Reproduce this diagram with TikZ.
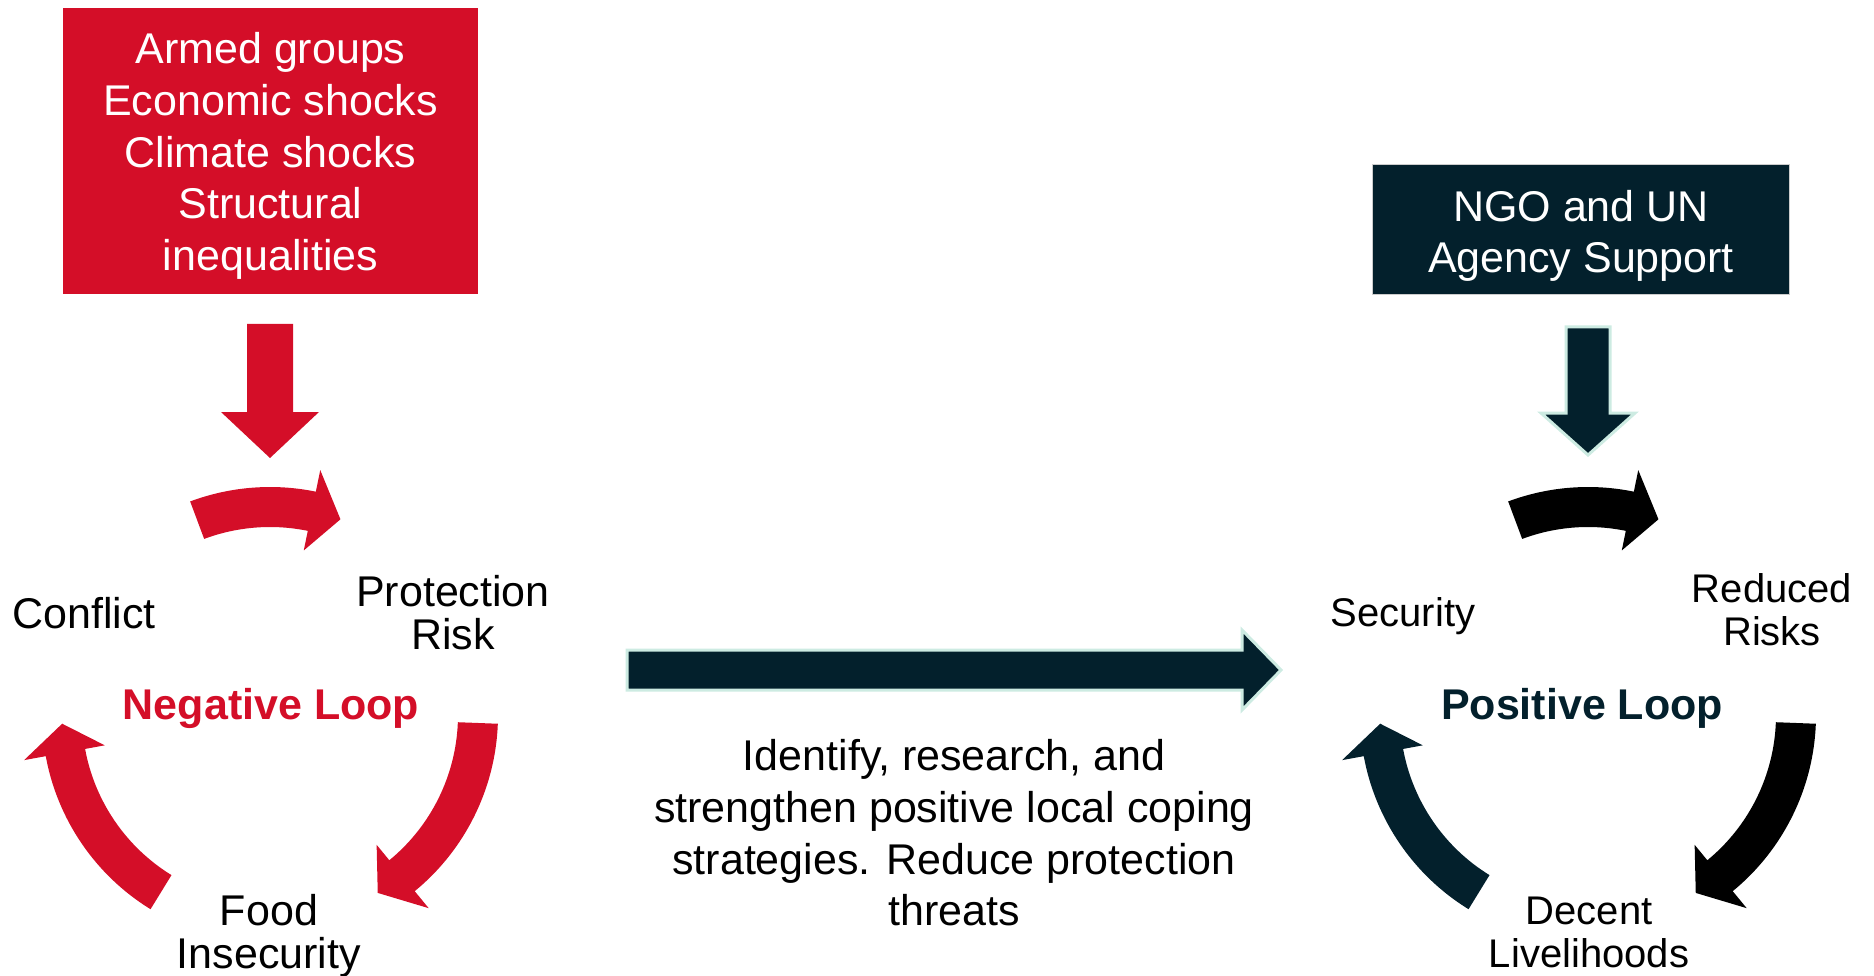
\documentclass[tikz,border=0pt]{standalone}
\usepackage{fontspec}
\setmainfont{Liberation Sans}
\definecolor{negred}{RGB}{212,14,40}
\definecolor{posteal}{RGB}{3,32,44}
\definecolor{glow}{RGB}{205,235,226}
\tikzset{
  boxtext/.style={text=white, align=center, font=\fontsize{43}{51.6}\selectfont},
  looplabel/.style={align=center, font=\fontsize{43}{43}\selectfont},
  poslabel/.style={align=center, font=\fontsize{40}{43}\selectfont},
  loopname/.style={font=\fontsize{43}{43}\selectfont\bfseries},
  notetext/.style={align=center, font=\fontsize{43}{51.6}\selectfont},
}

\begin{document}
\begin{tikzpicture}[x=1pt,y=-1pt]
\useasboundingbox (0,0) rectangle (1874,976);

% causes
\node[fill=negred, minimum width=415pt, minimum height=286pt, inner sep=0] (shocks) at (270.5,151) {};
\node[boxtext] (shocktext) at (270.5,156) {Armed groups\\Economic shocks\\Climate shocks\\Structural\\inequalities};
\fill[negred] (247,324) -- (293,324) -- (293,412) -- (319,412) -- (270,458) -- (221,412) -- (247,412) -- cycle;

% negative loop
\begin{scope}[shift={(270,715)}]
    \fill[negred] (-110.5:228) arc[start angle=-110.5, end angle=-78.4, radius=228] -- (-78.4:250) -- (-70.2:208) -- (-78.4:168) -- (-78.4:188) arc[start angle=-78.4, end angle=-110.5, radius=188] -- cycle;
    \fill[negred] (2.2:228) arc[start angle=2.2, end angle=50.6, radius=228] -- (50.6:250) -- (58.8:208) -- (50.6:168) -- (50.6:188) arc[start angle=50.6, end angle=2.2, radius=188] -- cycle;
    \fill[negred] (121.6:228) arc[start angle=121.6, end angle=169.6, radius=228] -- (169.6:250) -- (177.6:208) -- (169.6:168) -- (169.6:188) arc[start angle=169.6, end angle=121.6, radius=188] -- cycle;
\end{scope}
\node[looplabel] (conflict) at (84,613) {Conflict};
\node[looplabel] (risk) at (453,613) {Protection\\Risk};
\node[looplabel] (food) at (269,936) {Food\\Insecurity};
\node[loopname, text=negred] (negloop) at (271,708) {Negative Loop};

% middle
\fill[posteal, draw=glow, line width=3pt] (627,650) -- (1242,650) -- (1242,630) -- (1281,670) -- (1242,710) -- (1242,690) -- (627,690) -- cycle;
\node[notetext] (coping) at (954,833) {Identify, research, and\\strengthen positive local coping\\strategies. Reduce protection\\threats};

% support
\node[fill=posteal, draw=gray!40, minimum width=417pt, minimum height=130pt, inner sep=0] (support) at (1581,229.5) {};
\node[boxtext] (supporttext) at (1581,236) {NGO and UN\\Agency Support};
\fill[posteal, draw=glow, line width=3pt] (1566,327) -- (1610,327) -- (1610,413) -- (1635,413) -- (1588,455) -- (1541,413) -- (1566,413) -- cycle;

% positive loop
\begin{scope}[shift={(1588,715)}]
    \fill[black] (-110.5:228) arc[start angle=-110.5, end angle=-78.4, radius=228] -- (-78.4:250) -- (-70.2:208) -- (-78.4:168) -- (-78.4:188) arc[start angle=-78.4, end angle=-110.5, radius=188] -- cycle;
    \fill[black] (2.2:228) arc[start angle=2.2, end angle=50.6, radius=228] -- (50.6:250) -- (58.8:208) -- (50.6:168) -- (50.6:188) arc[start angle=50.6, end angle=2.2, radius=188] -- cycle;
    \fill[posteal] (121.6:228) arc[start angle=121.6, end angle=169.6, radius=228] -- (169.6:250) -- (177.6:208) -- (169.6:168) -- (169.6:188) arc[start angle=169.6, end angle=121.6, radius=188] -- cycle;
\end{scope}
\node[poslabel] (security) at (1403,616) {Security};
\node[poslabel] (reduced) at (1772,610) {Reduced\\Risks};
\node[poslabel] (decent) at (1589,932) {Decent\\Livelihoods};
\node[loopname, text=posteal] (posloop) at (1582,708) {Positive Loop};

\end{tikzpicture}
\end{document}
